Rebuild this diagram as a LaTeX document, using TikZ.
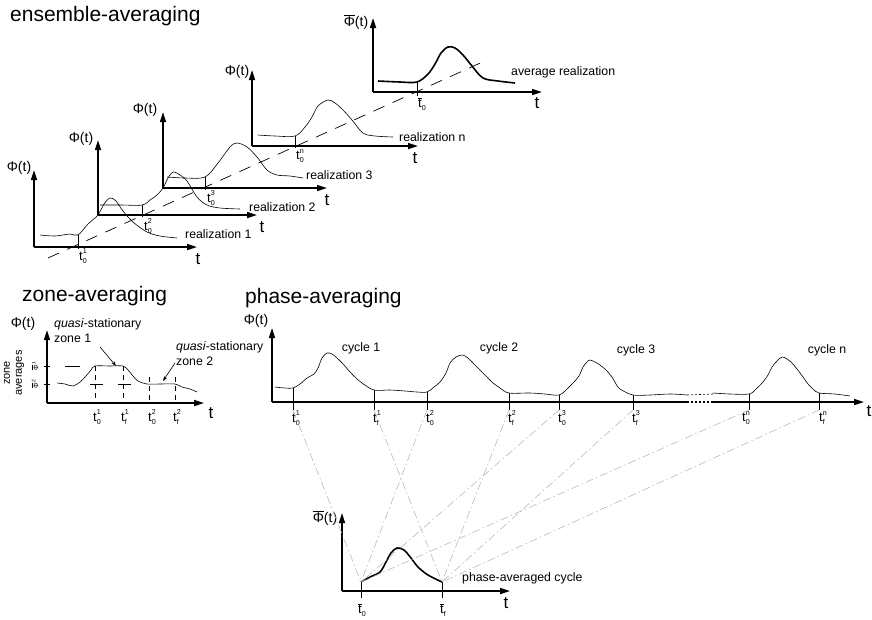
\documentclass[tikz,border=0pt]{standalone}
\usepackage{fontspec}
\setmainfont{Liberation Sans}
\usepackage{graphicx}
\usetikzlibrary{arrows.meta}

\newcommand{\tsym}[2]{t\kern0.3pt\raisebox{-0.45ex}{\rlap{\scalebox{0.55}{#1}}}\raisebox{0.95ex}{\scalebox{0.55}{#2}}}
\newcommand{\tbar}[1]{$\overline{\mbox{t}}$\kern0.3pt\raisebox{-0.45ex}{\scalebox{0.55}{#1}}}
\newcommand{\phibar}{$\overline{\mbox{Φ}}$}

\begin{document}
\begin{tikzpicture}[x=1pt,y=-1pt,
  axis/.style={line width=1.6pt,-{Triangle[length=10pt,width=6pt]}},
  crv/.style={line width=0.6pt,smooth,tension=0.55},
  avgcrv/.style={line width=1.6pt,smooth,tension=0.55},
  tickln/.style={line width=0.7pt},
  ttl/.style={font=\fontsize{21}{25}\selectfont,inner sep=0pt,anchor=base west},
  lbl/.style={font=\fontsize{12.3}{15}\selectfont,inner sep=0pt},
  phil/.style={font=\fontsize{14}{16}\selectfont,inner sep=0pt},
  tax/.style={font=\fontsize{17}{19}\selectfont,inner sep=0pt},
  ticklbl/.style={font=\fontsize{13}{15}\selectfont,inner sep=0pt},
  zonedash/.style={line width=0.7pt,dash pattern=on 5pt off 4pt},
  guide/.style={line width=0.6pt,gray!55,dash pattern=on 8pt off 3pt on 1.5pt off 3pt}
]
\useasboundingbox (0,0) rectangle (872,619);

% ensemble-averaging
\node[ttl] (tens) at (10,21) {ensemble-averaging};

\draw[line width=0.7pt,dash pattern=on 12pt off 9pt] (48,258) -- (487,60);

% realization 1
\draw[axis] (34,247) -- (34,170);
\draw[axis] (34,247) -- (197,247);
\node[phil] (phi1) at (19,168) {Φ(t)};
\node[tax] (ta1) at (198,259) {t};
\draw[crv] plot coordinates {(40,235) (55,236) (70,234) (78,235) (88,224) (98,215) (104,204) (110,198) (116,201) (123,211) (133,222) (147,232) (160,236) (177,238)};
\draw[tickln] (78,235) -- (78,249);
\node[ticklbl] (t01) at (83,256) {\tsym{0}{1}};
\node[lbl,anchor=west] (r1) at (185,234) {realization 1};

% realization 2
\draw[axis] (98,215) -- (98,140);
\draw[axis] (98,215) -- (257,215);
\node[phil] (phi2) at (81,139) {Φ(t)};
\node[tax] (ta2) at (262,227) {t};
\draw[crv] plot coordinates {(100,205) (120,205) (142,205) (150,200) (157,195) (163,188) (168,178) (173,172) (180,175) (187,181) (197,197) (207,205) (220,208) (240,209)};
\draw[tickln] (142,205) -- (142,217);
\node[ticklbl] (t02) at (148,226) {\tsym{0}{2}};
\node[lbl,anchor=west] (r2) at (249,207) {realization 2};

% realization 3
\draw[axis] (163,188) -- (163,112);
\draw[axis] (163,188) -- (327,188);
\node[phil] (phi3) at (145,110) {Φ(t)};
\node[tax] (ta3) at (327,200) {t};
\draw[crv] plot coordinates {(167,177) (185,178) (205,177) (218,163) (230,147) (237,143) (247,147) (257,157) (267,170) (277,175) (290,176) (303,178)};
\draw[tickln] (205,177) -- (205,190);
\node[ticklbl] (t03) at (211,198) {\tsym{0}{3}};
\node[lbl,anchor=west] (r3) at (306,175) {realization 3};

% realization n
\draw[axis] (252,146) -- (252,70);
\draw[axis] (252,146) -- (418,146);
\node[phil] (phin) at (237,72) {Φ(t)};
\node[tax] (tan) at (415,158) {t};
\draw[crv] plot coordinates {(258,135) (275,136) (295,136) (305,127) (312,117) (318,106) (328,100) (335,103) (343,110) (352,120) (363,133) (375,136) (393,137)};
\draw[tickln] (295,136) -- (295,148);
\node[ticklbl] (t0n) at (300,156) {\tsym{0}{n}};
\node[lbl,anchor=west] (rn) at (399,137) {realization n};

% average realization
\draw[axis] (373,92) -- (373,18);
\draw[axis] (373,92) -- (542,92);
\node[phil] (phiav) at (356,22) {\phibar(t)};
\node[tax] (taav) at (537,103) {t};
\draw[avgcrv] plot coordinates {(378,81) (400,82) (417,82) (428,74) (435,64) (441,53) (448,47) (455,48) (463,55) (472,66) (483,78) (498,81) (515,83)};
\draw[tickln] (417,82) -- (417,96);
\node[ticklbl] (t0av) at (422,104) {\tbar{0}};
\node[lbl,anchor=west] (rav) at (511,72) {average realization};

% zone-averaging
\node[ttl] (tzone) at (22,301) {zone-averaging};
\draw[axis] (47,403) -- (47,330);
\draw[axis] (47,403) -- (204,403);
\node[phil] (phiz) at (23,324) {Φ(t)};
\node[tax] (taz) at (211,413) {t};
\node[font=\fontsize{11}{12}\selectfont,inner sep=0pt,align=center,rotate=90] (zavg) at (14,373) {zone\\averages};
\node[font=\fontsize{7}{8}\selectfont,inner sep=0pt,rotate=90] (zphi1) at (35,366) {\phibar\textsuperscript{1}};
\node[font=\fontsize{7}{8}\selectfont,inner sep=0pt,rotate=90] (zphi2) at (35,384) {\phibar\textsuperscript{2}};
\draw[tickln] (44,366) -- (50,366);
\draw[tickln] (44,384) -- (50,384);
\draw[line width=0.7pt,dash pattern=on 15pt off 15pt] (65,366) -- (95,366);
\draw[line width=0.7pt,dash pattern=on 13pt off 15pt] (90,384) -- (131,384);
\draw[zonedash] (95,366) -- (95,403);
\draw[zonedash] (123,366) -- (123,403);
\draw[zonedash] (149,377) -- (149,403);
\draw[zonedash] (175,377) -- (175,403);
\draw[crv] plot coordinates {(57,383) (65,384) (73,386) (80,382) (86,376) (91,370) (95,366) (110,366) (123,366) (128,370) (133,376) (138,381) (147,384) (160,384) (175,384) (182,387) (190,389) (197,392)};
\node[ticklbl] (zt01) at (97,417) {\tsym{0}{1}};
\node[ticklbl] (ztf1) at (125,417) {\tsym{f}{1}};
\node[ticklbl] (zt02) at (152,417) {\tsym{0}{2}};
\node[ticklbl] (ztf2) at (177,417) {\tsym{f}{2}};
\node[lbl,anchor=north west,align=left] (qz1) at (54,318) {\textit{quasi}-stationary\\zone 1};
\node[lbl,anchor=north west,align=left] (qz2) at (176,341) {\textit{quasi}-stationary\\zone 2};
\coordinate (az1) at (116,366);
\coordinate (az2) at (163,381);
\draw[line width=0.6pt,-{Stealth[length=5pt,width=3.5pt]}] (100,347) -- (az1);
\draw[line width=0.6pt,-{Stealth[length=5pt,width=3.5pt]}] (175,363) -- (az2);

% phase-averaging
\node[ttl] (tphase) at (245,303) {phase-averaging};
\draw[axis] (272,402) -- (272,328);
\draw[line width=1.6pt] (272,402) -- (687,402);
\draw[line width=1.6pt,dash pattern=on 2pt off 2pt] (687,402) -- (713,402);
\draw[axis] (713,402) -- (864,402);
\node[phil] (phip) at (256,321) {Φ(t)};
\node[tax] (tap) at (869,411) {t};
\draw[crv] plot coordinates {(275,387) (285,388) (293,388) (300,384) (307,378) (314,374) (318,368) (322,358) (327,353) (332,354) (337,358) (344,365) (350,372) (356,378) (362,383) (374,390) (390,390) (405,391) (417,392) (427,392) (434,387) (440,382) (446,373) (450,363) (456,357) (463,355) (469,359) (475,365) (481,371) (487,377) (493,383) (500,388) (509,393) (530,393) (545,394) (559,395) (567,389) (573,383) (579,376) (583,367) (587,362) (590,360) (595,362) (600,365) (606,370) (612,377) (616,384) (620,389) (633,395) (650,395) (670,394) (687,395)};
\draw[line width=0.6pt,dash pattern=on 2pt off 2pt] (687,395) -- (713,394);
\draw[crv] plot coordinates {(713,393) (730,394) (749,394) (756,389) (763,382) (768,375) (772,367) (777,361) (782,357) (787,359) (792,363) (797,369) (803,377) (808,384) (813,389) (819,393) (835,394) (850,396)};
\node[lbl] (c1) at (361,348) {cycle 1};
\node[lbl] (c2) at (499,348) {cycle 2};
\node[lbl] (c3) at (636,350) {cycle 3};
\node[lbl] (cn) at (827,350) {cycle n};

% phase ticks
\coordinate (p01) at (293,410);
\coordinate (pf1) at (374,410);
\coordinate (p02) at (427,410);
\coordinate (pf2) at (509,410);
\coordinate (p03) at (559,410);
\coordinate (pf3) at (633,410);
\coordinate (p0n) at (749,410);
\coordinate (pfn) at (819,410);
\draw[tickln] (293,388) -- (p01);
\draw[tickln] (374,390) -- (pf1);
\draw[tickln] (427,392) -- (p02);
\draw[tickln] (509,393) -- (pf2);
\draw[tickln] (559,395) -- (p03);
\draw[tickln] (633,395) -- (pf3);
\draw[tickln] (749,394) -- (p0n);
\draw[tickln] (819,393) -- (pfn);
\node[ticklbl] (lp01) at (296,418) {\tsym{0}{1}};
\node[ticklbl] (lpf1) at (377,418) {\tsym{f}{1}};
\node[ticklbl] (lp02) at (430,418) {\tsym{0}{2}};
\node[ticklbl] (lpf2) at (512,418) {\tsym{f}{2}};
\node[ticklbl] (lp03) at (562,418) {\tsym{0}{3}};
\node[ticklbl] (lpf3) at (636,418) {\tsym{f}{3}};
\node[ticklbl] (lp0n) at (746,418) {\tsym{0}{n}};
\node[ticklbl] (lpfn) at (823,418) {\tsym{f}{n}};

% phase-averaged cycle
\draw[axis] (342,591) -- (342,513);
\draw[axis] (342,591) -- (510,591);
\node[phil] (phib) at (325,518) {\phibar(t)};
\node[tax] (tab) at (506,603) {t};
\coordinate (b0) at (361,582);
\coordinate (bf) at (442,582);
\draw[avgcrv] plot coordinates {(b0) (370,577) (380,572) (386,562) (391,553) (397,548) (404,550) (411,558) (418,567) (428,575) (bf)};
\draw[tickln] (b0) -- (361,598);
\draw[tickln] (bf) -- (442,598);
\node[ticklbl] (lb0) at (362,610) {\tbar{0}};
\node[ticklbl] (lbf) at (443,610) {\tbar{f}};
\node[lbl,anchor=west] (pac) at (462,578) {phase-averaged cycle};

% projections
\foreach \p in {p01,p02,p03,p0n} \draw[guide] (\p) -- (b0);
\foreach \p in {pf1,pf2,pf3,pfn} \draw[guide] (\p) -- (bf);
\end{tikzpicture}
\end{document}
